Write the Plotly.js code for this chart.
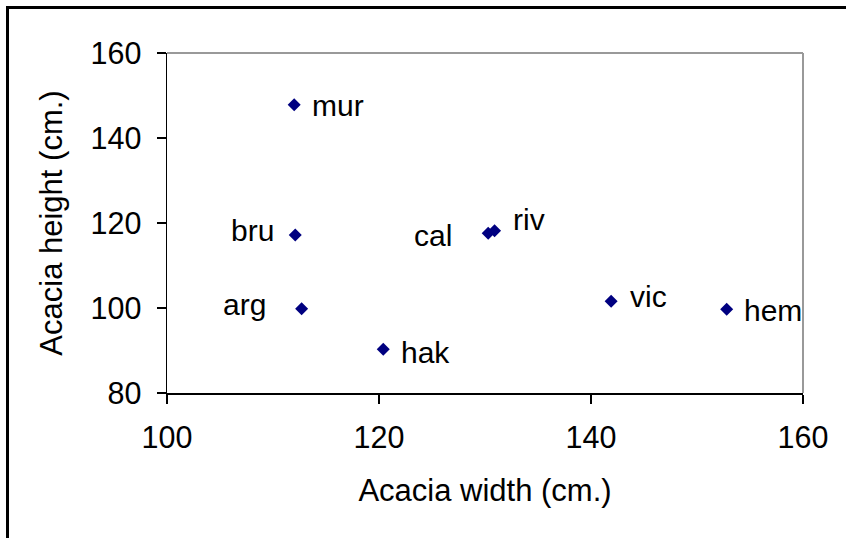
<!DOCTYPE html>
<html>
<head>
<meta charset="utf-8">
<script src="https://cdn.plot.ly/plotly-3.0.1.min.js"></script>
<style>
  html, body { margin: 0; padding: 0; background: #fff; }
  #wrap { position: relative; width: 846px; height: 538px; overflow: hidden; }
  #chart { position: absolute; left: 0; top: 0; width: 846px; height: 538px; }
  #frame { position: absolute; left: 6px; top: 6px; width: 900px; height: 600px;
           border-left: 3px solid #000; border-top: 3px solid #000; pointer-events: none; }
</style>
</head>
<body>
<div id="wrap">
  <div id="chart"></div>
  <div id="frame"></div>
</div>
<script>
// Data
var species = ["mur", "bru", "arg", "hak", "cal", "riv", "vic", "hem"];
var widths  = [112.0, 112.1, 112.7, 120.4, 130.3, 130.9, 141.9, 152.8];
var heights = [147.8, 117.2, 99.8, 90.3, 117.6, 118.2, 101.6, 99.7];

var xTicks = [100, 120, 140, 160];
var yTicks = [80, 100, 120, 140, 160];

// label offsets (pixels), presentation only
var labelShift = {
  mur: [44, -1], bru: [-43, 4], arg: [-57, 4], hak: [42, -3],
  cal: [-55, -2], riv: [34, 11], vic: [37, 5], hem: [46, -1]
};

var FONT = "Liberation Sans, Arial, sans-serif";

var trace = {
  type: "scatter",
  mode: "markers",
  x: widths,
  y: heights,
  text: species,
  marker: { symbol: "diamond", size: 10, color: "#000080", line: { width: 0 } },
  hoverinfo: "text+x+y",
  showlegend: false
};

var annotations = species.map(function (s, i) {
  return {
    x: widths[i], y: heights[i], xref: "x", yref: "y",
    text: s, showarrow: false,
    xanchor: "center", yanchor: "middle",
    xshift: labelShift[s][0], yshift: labelShift[s][1],
    font: { family: FONT, size: 30, color: "#000" }
  };
});

var layout = {
  width: 846, height: 538,
  paper_bgcolor: "#fff", plot_bgcolor: "#fff",
  margin: { l: 167, r: 43, t: 53, b: 145, pad: 0 },
  font: { family: FONT, size: 30, color: "#000" },
  xaxis: {
    range: [100, 160], tickvals: xTicks, ticktext: xTicks.map(String),
    showgrid: false, zeroline: false,
    showline: true, linecolor: "#000", linewidth: 1.5,
    ticks: "outside", ticklen: 9, tickwidth: 1.5, tickcolor: "#000",
    ticklabelstandoff: 8,
    tickfont: { family: FONT, size: 30.5, color: "#000" },
    title: { text: "Acacia width (cm.)", font: { family: FONT, size: 31, color: "#000" }, standoff: 26 },
    fixedrange: true
  },
  yaxis: {
    range: [80, 160], tickvals: yTicks, ticktext: yTicks.map(String),
    showgrid: false, zeroline: false,
    showline: true, linecolor: "#000", linewidth: 1.5,
    ticks: "outside", ticklen: 9, tickwidth: 1.5, tickcolor: "#000",
    ticklabelstandoff: 9,
    tickfont: { family: FONT, size: 30.5, color: "#000" },
    title: { text: "Acacia height (cm.)", font: { family: FONT, size: 31, color: "#000" }, standoff: 18 },
    fixedrange: true
  },
  shapes: [
    { type: "line", xref: "paper", yref: "paper", x0: 0, x1: 1, y0: 1, y1: 1,
      line: { color: "#999", width: 2 } },
    { type: "line", xref: "paper", yref: "paper", x0: 1, x1: 1, y0: 0, y1: 1,
      line: { color: "#999", width: 2 } }
  ],
  annotations: annotations
};

Plotly.newPlot("chart", [trace], layout, { displayModeBar: false, staticPlot: true });
</script>
</body>
</html>
